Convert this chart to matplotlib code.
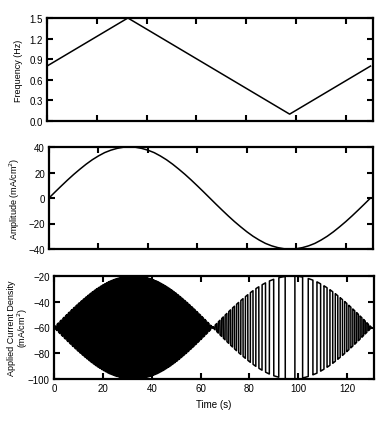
import numpy as np
import matplotlib.pyplot as plt

# Frequency sweep breakpoints (s, Hz)
freq_time = [0, 32.5, 97.5, 130]
freq_values = [0.8, 1.5, 0.1, 0.8]

# Amplitude read every 2.5 s (mA/cm^2)
amp_time = [0, 2.5, 5, 7.5, 10, 12.5, 15, 17.5, 20, 22.5, 25, 27.5, 30, 32.5,
            35, 37.5, 40, 42.5, 45, 47.5, 50, 52.5, 55, 57.5, 60, 62.5, 65,
            67.5, 70, 72.5, 75, 77.5, 80, 82.5, 85, 87.5, 90, 92.5, 95, 97.5,
            100, 102.5, 105, 107.5, 110, 112.5, 115, 117.5, 120, 122.5, 125, 127.5, 130]
amp_values = [0, 4.8, 9.5, 14.1, 18.5, 22.6, 26.5, 30, 33, 35.6, 37.5, 38.9, 39.8, 40,
              39.8, 38.9, 37.5, 35.6, 33, 30, 26.5, 22.6, 18.5, 14.1, 9.5, 4.8, 0,
              -4.8, -9.5, -14.1, -18.5, -22.6, -26.5, -30, -33, -35.6, -37.5, -38.9, -39.8, -40,
              -39.8, -38.9, -37.5, -35.6, -33, -30, -26.5, -22.6, -18.5, -14.1, -9.5, -4.8, 0]

# DC offset of the applied current density (mA/cm^2)
offset = -60

# Tick labels
x_ticks = [0, 20, 40, 60, 80, 100, 120]
freq_ticks = [0.0, 0.3, 0.6, 0.9, 1.2, 1.5]
amp_ticks = [-40, -20, 0, 20, 40]
cd_ticks = [-100, -80, -60, -40, -20]

plt.rcParams['font.family'] = ['Liberation Sans', 'DejaVu Sans']
plt.rcParams['font.size'] = 7

fig = plt.figure(figsize=(3.82, 4.31), dpi=100)

# Axes positions (left, bottom, width, height) in figure fractions
ax1 = fig.add_axes([47 / 382, 309 / 431, 326 / 382, 103 / 431])
ax2 = fig.add_axes([49 / 382, 181 / 431, 324 / 382, 102 / 431])
ax3 = fig.add_axes([54 / 382, 51 / 431, 320 / 382, 103 / 431])

# Panel 1: frequency
ax1.plot(freq_time, freq_values, color='black', lw=1.1)
ax1.set_ylim(0, 1.5)
ax1.set_yticks(freq_ticks)
ax1.set_yticklabels(['%.1f' % v for v in freq_ticks])
ax1.set_ylabel('Frequency (Hz)', fontsize=6.5)

# Panel 2: amplitude
ax2.plot(amp_time, amp_values, color='black', lw=1.1)
ax2.set_ylim(-40, 40)
ax2.set_yticks(amp_ticks)
ax2.set_ylabel('Amplitude (mA/cm$^2$)', fontsize=6.5)

# Panel 3: applied current density (square wave built from frequency and amplitude)
t = np.linspace(0, 130, 40000)
f = np.interp(t, freq_time, freq_values)
phase = 2 * np.pi * np.concatenate([[0], np.cumsum((f[1:] + f[:-1]) / 2 * np.diff(t))])
amp = np.interp(t, amp_time, amp_values)
ax3.plot(t, offset + amp * np.sign(np.sin(phase)), color='black', lw=1.1)
ax3.set_ylim(-100, -20)
ax3.set_yticks(cd_ticks)
ax3.set_ylabel('Applied Current Density\n(mA/cm$^2$)', fontsize=6.5, linespacing=1.0)
ax3.set_xlabel('Time (s)')

for ax in (ax1, ax2, ax3):
    ax.set_xlim(0, 131)
    ax.set_xticks(x_ticks)
    ax.tick_params(direction='in', length=4, width=1.5, top=True, right=True, pad=3)
    for spine in ax.spines.values():
        spine.set_linewidth(1.6)

ax1.set_xticklabels([])
ax2.set_xticklabels([])
ax1.yaxis.set_label_coords(-0.074, 0.5)
ax2.yaxis.set_label_coords(-0.083, 0.5)
ax3.yaxis.set_label_coords(-0.075, 0.5)

plt.savefig('out.png', dpi=100)
